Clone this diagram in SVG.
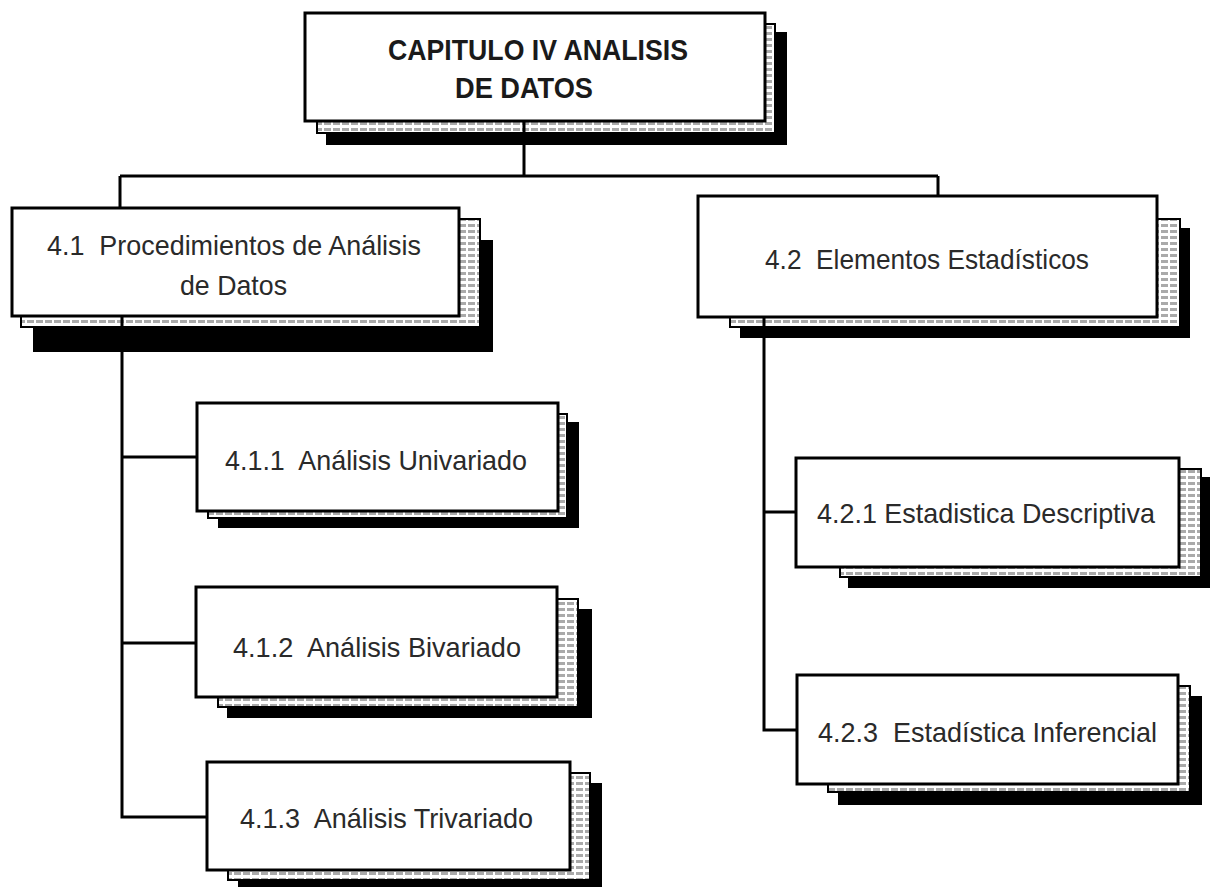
<svg xmlns="http://www.w3.org/2000/svg" width="1214" height="890" viewBox="0 0 1214 890">
<style>
.bk{fill:#000;stroke:none}
.md{fill:url(#hatch);stroke:#000;stroke-width:2}
.mn{fill:#fff;stroke:#000;stroke-width:3}
.t{font-family:"Liberation Sans",Arial,sans-serif;font-size:28px;fill:#2a2a2a;text-anchor:start;white-space:pre}
.tb{font-family:"Liberation Sans",Arial,sans-serif;font-size:30px;font-weight:bold;fill:#1a1a1a}
.c{fill:none;stroke:#000;stroke-width:3}
</style>
<defs>
<pattern id="hatch" width="9" height="6" patternUnits="userSpaceOnUse">
<rect width="9" height="6" fill="#fff"/>
<rect x="0" y="2" width="7" height="3" fill="#aaaaaa"/>
</pattern>
</defs>
<rect width="1214" height="890" fill="#fff"/>
<g id="n0">
<rect class="bk" x="326" y="32" width="461" height="113"/>
<rect class="md" x="317" y="24" width="458" height="109"/>
<rect class="mn" x="305" y="13" width="460" height="108"/>
<text class="tb" x="388" y="60" textLength="300" lengthAdjust="spacingAndGlyphs">CAPITULO IV ANALISIS</text>
<text class="tb" x="455" y="98" textLength="138" lengthAdjust="spacingAndGlyphs">DE DATOS</text>
</g>
<g id="n41">
<rect class="bk" x="33" y="240" width="460" height="112"/>
<rect class="md" x="21" y="219" width="459" height="108"/>
<rect class="mn" x="12" y="208" width="447" height="108"/>
<text class="t" xml:space="preserve" x="47" y="255" textLength="374" lengthAdjust="spacingAndGlyphs">4.1  Procedimientos de Análisis</text>
<text class="t" x="180" y="295" textLength="107" lengthAdjust="spacingAndGlyphs">de Datos</text>
</g>
<g id="n42">
<rect class="bk" x="740" y="228" width="450" height="110"/>
<rect class="md" x="730" y="219" width="450" height="108"/>
<rect class="mn" x="698" y="196" width="459" height="121"/>
<text class="t" xml:space="preserve" x="765" y="269" textLength="324" lengthAdjust="spacingAndGlyphs">4.2  Elementos Estadísticos</text>
</g>
<g id="n411">
<rect class="bk" x="218" y="422" width="361" height="106"/>
<rect class="md" x="208" y="414" width="359" height="104"/>
<rect class="mn" x="197" y="403" width="361" height="108"/>
<text class="t" xml:space="preserve" x="225" y="470" textLength="302" lengthAdjust="spacingAndGlyphs">4.1.1  Análisis Univariado</text>
</g>
<g id="n412">
<rect class="bk" x="227" y="609" width="365" height="109"/>
<rect class="md" x="218" y="599" width="360" height="108"/>
<rect class="mn" x="196" y="587" width="361" height="110"/>
<text class="t" xml:space="preserve" x="233" y="657" textLength="288" lengthAdjust="spacingAndGlyphs">4.1.2  Análisis Bivariado</text>
</g>
<g id="n413">
<rect class="bk" x="238" y="783" width="364" height="104"/>
<rect class="md" x="228" y="773" width="362" height="107"/>
<rect class="mn" x="207" y="762" width="363" height="108"/>
<text class="t" xml:space="preserve" x="240" y="828" textLength="293" lengthAdjust="spacingAndGlyphs">4.1.3  Análisis Trivariado</text>
</g>
<g id="n421">
<rect class="bk" x="848" y="477" width="362" height="111"/>
<rect class="md" x="840" y="469" width="361" height="108"/>
<rect class="mn" x="796" y="458" width="383" height="109"/>
<text class="t" x="817" y="523" textLength="338" lengthAdjust="spacingAndGlyphs">4.2.1 Estadistica Descriptiva</text>
</g>
<g id="n423">
<rect class="bk" x="838" y="696" width="364" height="109"/>
<rect class="md" x="828" y="686" width="362" height="106"/>
<rect class="mn" x="797" y="675" width="381" height="109"/>
<text class="t" xml:space="preserve" x="818" y="742" textLength="339" lengthAdjust="spacingAndGlyphs">4.2.3  Estadística Inferencial</text>
</g>
<g id="connectors">
<path class="c" d="M524,121 V176 M120,176 H938 M120,176 V208 M938,176 V196"/>
<path class="c" d="M122,316 V817 H207 M122,457 H197 M122,643 H196"/>
<path class="c" d="M764,317 V730 H797 M764,512 H796"/>
</g>
</svg>
